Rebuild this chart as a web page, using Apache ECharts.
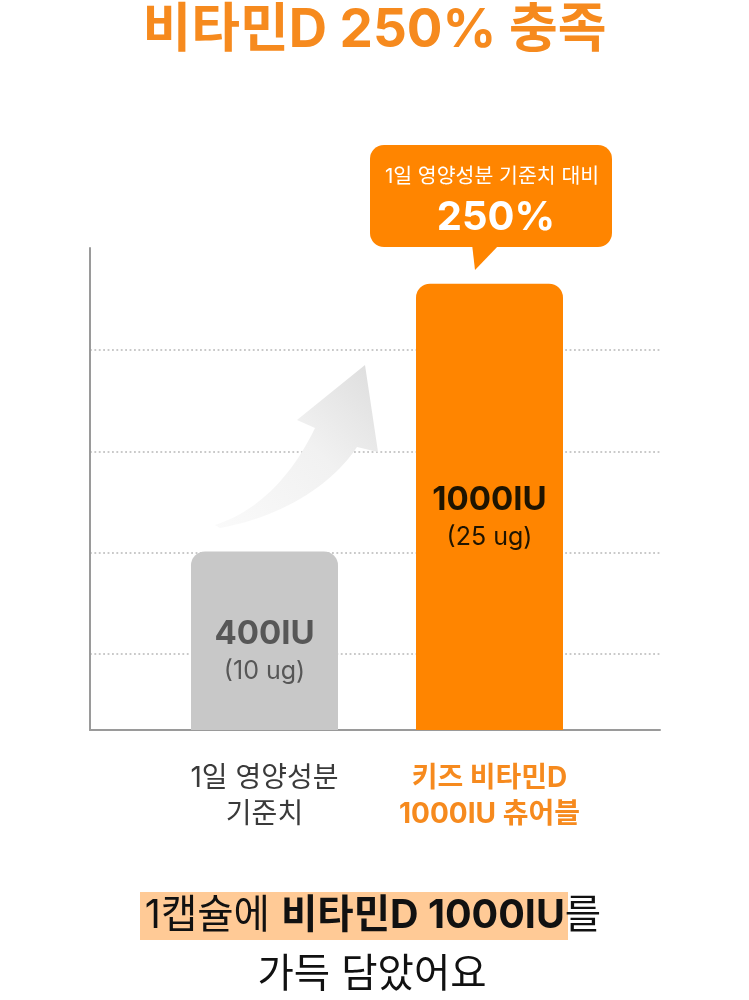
<!DOCTYPE html>
<html lang="ko">
<head>
<meta charset="utf-8">
<title>비타민D 250% 충족</title>
<script src="https://cdn.jsdelivr.net/npm/echarts@6/dist/echarts.min.js"></script>
<style>
  html, body { margin: 0; padding: 0; background: #ffffff; }
  #chart { width: 749px; height: 1000px; }
</style>
</head>
<body>
<div id="chart"></div>
<script>
// Daily reference intake vs. one chewable capsule
const categories = ['1일 영양성분\n기준치', '키즈 비타민D\n1000IU 츄어블'];
const iuValues = [400, 1000];
const ugValues = [10, 25];
const barColors = ['#c8c8c8', '#ff8500'];
const barLabelColors = ['#575757', '#1f1400'];

const FONT = 'Inter, "Noto Sans CJK KR", sans-serif';
const ORANGE = '#ff8500';
const ORANGE_TEXT = '#f68a1e';

const ratio = Math.round(iuValues[1] / iuValues[0] * 100) + '%';

// sample a cubic Bézier into polygon points
function cubic(p0, p1, p2, p3, n) {
  const pts = [];
  for (let i = 0; i <= n; i++) {
    const t = i / n, u = 1 - t;
    pts.push([
      u * u * u * p0[0] + 3 * u * u * t * p1[0] + 3 * u * t * t * p2[0] + t * t * t * p3[0],
      u * u * u * p0[1] + 3 * u * u * t * p1[1] + 3 * u * t * t * p2[1] + t * t * t * p3[1]
    ]);
  }
  return pts;
}

// curved arrow outline: upper shaft edge, head, lower shaft edge
const arrowPoints = []
  .concat(cubic([215, 525], [255, 512], [290, 480], [315, 428], 24))
  .concat([[297, 420], [365, 365], [378, 452], [357, 447]])
  .concat(cubic([357, 447], [335, 480], [290, 515], [220, 528], 24));

const chart = echarts.init(document.getElementById('chart'), null, { renderer: 'canvas' });

const option = {
  backgroundColor: '#ffffff',
  animation: false,
  grid: [
    // frame: left axis line + baseline
    { left: 90, right: 89, top: 248, bottom: 270 },
    // dotted guide lines
    { left: 90, right: 89, top: 350, bottom: 346 },
    // bars
    { left: 152, right: 147, top: 248, bottom: 270 }
  ],
  xAxis: [
    {
      gridIndex: 0, type: 'value', min: 0, max: 1,
      axisLine: { show: true, lineStyle: { color: '#9a9a9a', width: 2 } },
      axisTick: { show: false }, axisLabel: { show: false }, splitLine: { show: false }
    },
    {
      gridIndex: 1, type: 'value', min: 0, max: 1, show: false
    },
    {
      gridIndex: 2, type: 'category',
      data: categories.map((c, i) => ({
        value: c,
        textStyle: i === 1
          ? { color: ORANGE_TEXT, fontWeight: 'bold' }
          : { color: '#3a3a3a', fontWeight: 'normal' }
      })),
      axisLine: { show: false }, axisTick: { show: false },
      axisLabel: {
        margin: 31, fontSize: 28, lineHeight: 36, fontFamily: FONT,
        interval: 0
      }
    }
  ],
  yAxis: [
    {
      gridIndex: 0, type: 'value', min: 0, max: 1,
      axisLine: { show: true, lineStyle: { color: '#9a9a9a', width: 2 } },
      axisTick: { show: false }, axisLabel: { show: false }, splitLine: { show: false }
    },
    {
      gridIndex: 1, type: 'value', min: 0, max: 3, interval: 1,
      axisLine: { show: false }, axisTick: { show: false }, axisLabel: { show: false },
      splitLine: {
        show: true, showMinLine: true, showMaxLine: true,
        lineStyle: { color: '#c9c9c9', width: 1.8, type: [1.8, 2.6] }
      }
    },
    {
      gridIndex: 2, type: 'value', min: 0, max: 1080, show: false,
      splitLine: { show: false }
    }
  ],
  series: [
    {
      type: 'bar',
      xAxisIndex: 2, yAxisIndex: 2,
      barWidth: 147,
      z: 3,
      data: iuValues.map((v, i) => ({
        value: v,
        itemStyle: { color: barColors[i], borderRadius: [14, 14, 0, 0] },
        label: { color: barLabelColors[i] }
      })),
      label: {
        show: true,
        position: 'inside',
        offset: [0, 12],
        fontFamily: FONT,
        formatter: p => `{v|${p.value}IU}\n{u|(${ugValues[p.dataIndex]} ug)}`,
        rich: {
          v: { fontSize: 33, fontWeight: 'bold', lineHeight: 37, fontFamily: FONT },
          u: { fontSize: 25, fontWeight: 'normal', lineHeight: 37, fontFamily: FONT }
        }
      }
    }
  ],
  graphic: [
    // headline
    {
      type: 'text', x: 374.5, y: 31, z: 10,
      style: {
        text: '비타민D ' + ratio + ' 충족',
        font: 'bold 53px ' + FONT,
        fill: ORANGE_TEXT, align: 'center', verticalAlign: 'middle'
      }
    },
    // rising arrow between the bars
    {
      type: 'polygon', z: 5,
      shape: { points: arrowPoints },
      style: {
        fill: {
          type: 'linear', x: 0, y: 1, x2: 1, y2: 0,
          colorStops: [
            { offset: 0, color: '#fafafa' },
            { offset: 0.55, color: '#f1f1f1' },
            { offset: 1, color: '#dddddd' }
          ]
        }
      }
    },
    // speech bubble above the orange bar
    {
      type: 'rect', z: 10,
      shape: { x: 370, y: 145, width: 242, height: 102, r: 14 },
      style: { fill: ORANGE }
    },
    {
      type: 'polygon', z: 10,
      shape: { points: [[472, 244], [475, 270], [500, 244]] },
      style: { fill: ORANGE }
    },
    {
      type: 'text', x: 492, y: 177, z: 11,
      style: {
        text: '1일 영양성분 기준치 대비',
        font: '20.5px ' + FONT,
        fill: '#ffffff', align: 'center', verticalAlign: 'middle'
      }
    },
    {
      type: 'text', x: 496, y: 218, z: 11,
      style: {
        text: ratio,
        font: 'bold 40px ' + FONT,
        fill: '#ffffff', align: 'center', verticalAlign: 'middle'
      }
    },
    // caption with highlighter band
    {
      type: 'rect', z: 9,
      shape: { x: 140, y: 892, width: 428, height: 48 },
      style: { fill: '#ffca96' }
    },
    {
      type: 'text', x: 373, y: 916, z: 10,
      style: {
        text: '{a|1캡슐에 }{b|비타민D 1000IU}{a|를}',
        align: 'center', verticalAlign: 'middle',
        rich: {
          a: { font: '39.5px ' + FONT, fill: '#111111' },
          b: { font: 'bold 39.5px ' + FONT, fill: '#111111' }
        }
      }
    },
    {
      type: 'text', x: 372, y: 975, z: 10,
      style: {
        text: '가득 담았어요',
        font: '39.5px ' + FONT,
        fill: '#111111', align: 'center', verticalAlign: 'middle'
      }
    }
  ]
};

chart.setOption(option);
</script>
</body>
</html>
